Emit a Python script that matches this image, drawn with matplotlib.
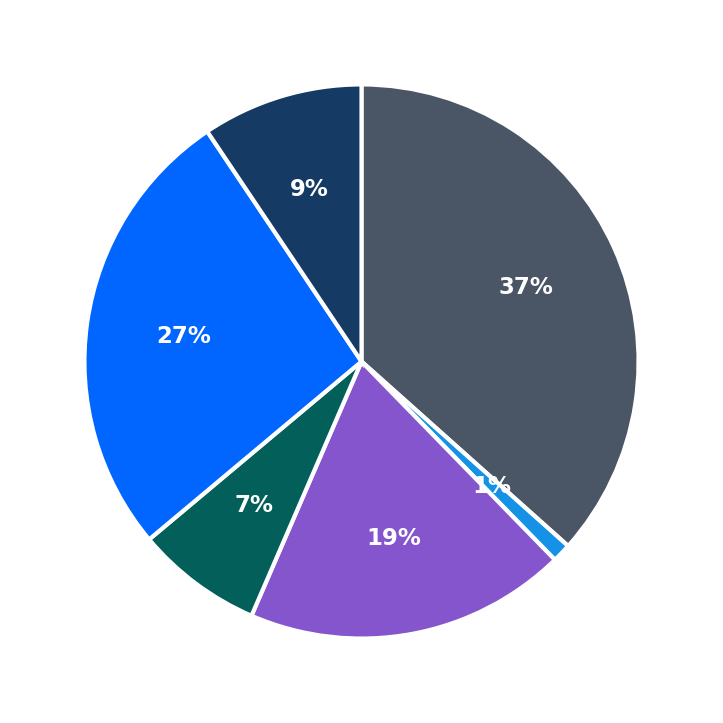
import matplotlib
matplotlib.use('Agg')
import matplotlib.pyplot as plt

# slice shares, clockwise from 12 o'clock
values = [36.6, 1.1, 18.8, 7.4, 26.7, 9.4]
colors = ['#4a5565', '#1592e6', '#8455cc', '#025f5a', '#0066ff', '#153a63']

fig = plt.figure(figsize=(7.23, 7.23), dpi=100)
ax = fig.add_axes([0, 0, 1, 1])

wedges, texts, autotexts = ax.pie(
    values, colors=colors, startangle=90, counterclock=False,
    radius=0.958, autopct='%.0f%%', pctdistance=0.65,
    wedgeprops=dict(edgecolor='white', linewidth=3))

for t in autotexts:
    t.set_color('white')
    t.set_fontsize(16.5)
    t.set_fontweight('bold')

ax.set_aspect('equal')
fig.savefig('out.png', dpi=100, facecolor='white')
